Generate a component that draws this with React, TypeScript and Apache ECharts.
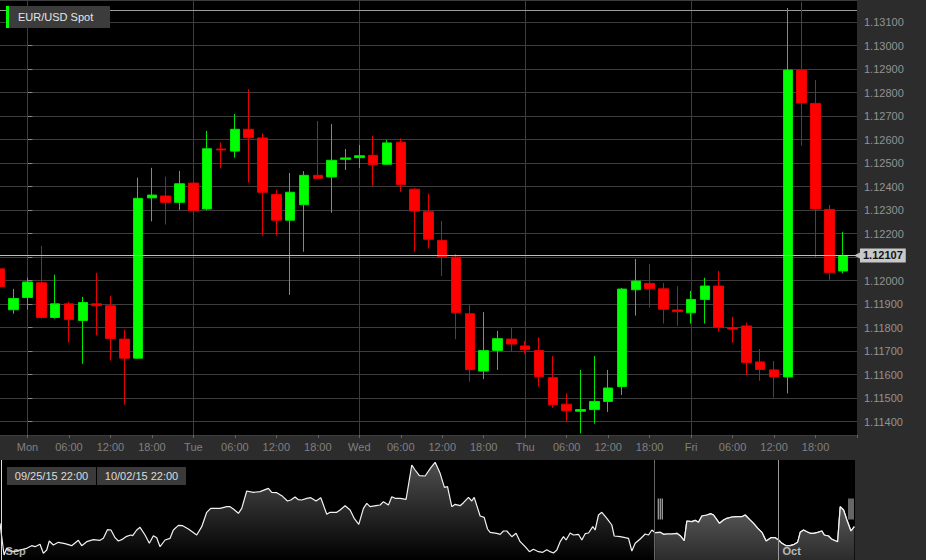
import React, { useEffect, useRef } from 'react';
import * as echarts from 'echarts';

// ---------- main chart data (2-hour candles, hours from Monday 00:00) ----------
const candleHours = Array.from({ length: 62 }, (_, i) => -4 + 2 * i);
const opens = [
  1.1205, 1.11876, 1.11928, 1.11991, 1.11843, 1.11901, 1.1183, 1.11901, 1.11893, 1.11751,
  1.1167, 1.12352, 1.1236, 1.12333, 1.12415, 1.12305, 1.1256, 1.12551, 1.12644, 1.12607,
  1.12366, 1.12257, 1.12323, 1.12448, 1.12441, 1.12516, 1.12523, 1.12533, 1.12495, 1.12589,
  1.12389, 1.12293, 1.12171, 1.121, 1.11859, 1.11615, 1.11703, 1.11751, 1.11722, 1.11703,
  1.11587, 1.11474, 1.11444, 1.11451, 1.11486, 1.11549, 1.11961, 1.11988, 1.11965, 1.11875,
  1.11863, 1.1192, 1.11977, 1.118, 1.11807, 1.11654, 1.1162, 1.1159, 1.12896, 1.12754,
  1.12303, 1.12041,
];
const closes = [
  1.11975, 1.11924, 1.11994, 1.11843, 1.11901, 1.11835, 1.11907, 1.11893, 1.11754, 1.1167,
  1.1235, 1.12364, 1.12333, 1.12412, 1.12297, 1.12561, 1.12556, 1.12644, 1.12608, 1.12376,
  1.12257, 1.12376, 1.12448, 1.12435, 1.12512, 1.12522, 1.12531, 1.12493, 1.12586, 1.12408,
  1.12296, 1.12176, 1.12102, 1.11863, 1.11621, 1.11702, 1.11753, 1.1173, 1.11706, 1.11591,
  1.11472, 1.11446, 1.11451, 1.11486, 1.11543, 1.11964, 1.11998, 1.11965, 1.11878, 1.11868,
  1.1192, 1.11977, 1.11801, 1.11794, 1.11652, 1.11622, 1.1159, 1.12896, 1.12756, 1.12305,
  1.12034, 1.12107,
];
const lows = [
  1.11918, 1.11859, 1.11876, 1.11838, 1.11838, 1.11737, 1.11646, 1.11767, 1.1166, 1.11472,
  1.11667, 1.12252, 1.12239, 1.12301, 1.1228, 1.123, 1.1248, 1.12523, 1.12417, 1.12191,
  1.12191, 1.11939, 1.12123, 1.12431, 1.12289, 1.12471, 1.12479, 1.12403, 1.12492, 1.12378,
  1.12123, 1.12137, 1.1202, 1.11751, 1.1157, 1.11581, 1.1162, 1.11697, 1.11689, 1.11549,
  1.11459, 1.11401, 1.1135, 1.11391, 1.11441, 1.11513, 1.11851, 1.11885, 1.11817, 1.11808,
  1.11817, 1.11817, 1.11783, 1.11736, 1.11598, 1.11574, 1.11502, 1.1152, 1.12574, 1.12099,
  1.12003, 1.12031,
];
const highs = [
  1.12089, 1.11965, 1.12012, 1.12148, 1.12025, 1.1191, 1.11931, 1.12033, 1.11935, 1.11791,
  1.12438, 1.1248, 1.12442, 1.12467, 1.12422, 1.12637, 1.12588, 1.12709, 1.12814, 1.12627,
  1.12386, 1.12458, 1.12466, 1.12679, 1.12666, 1.1256, 1.12577, 1.12615, 1.12598, 1.12605,
  1.12393, 1.12369, 1.12254, 1.12113, 1.119, 1.11866, 1.11786, 1.11798, 1.11743, 1.11759,
  1.11679, 1.1152, 1.1162, 1.11679, 1.1162, 1.11969, 1.12092, 1.12071, 1.1199, 1.11977,
  1.11956, 1.12012, 1.12041, 1.11846, 1.11821, 1.11709, 1.11658, 1.1316, 1.13185, 1.12854,
  1.12322, 1.12207,
];
const dayStarts = [0, 24, 48, 72, 96];
const dayNames = ['Mon', 'Tue', 'Wed', 'Thu', 'Fri', 'Sat'];
const lastPrice = 1.12107;
const sessionHighLine = 1.1315;
const seriesName = 'EUR/USD Spot';

// ---------- navigator data (hours from start of the navigator window) ----------
const navHours = [
  0, 3.4, 5.6, 11.2, 16.8, 22.4, 26.6, 29.4, 33.6, 36.4, 39.2, 41.4, 44.8, 49, 54.6, 60.2, 65.8, 68.6,
  72.8, 78.4, 84, 86.8, 90.2, 93.2, 96.6, 99.4, 102.2, 105.8, 109.8, 111.4, 114.8, 117.6, 121.8, 125.4,
  128.8, 131.6, 134.4, 138.6, 142.8, 145.6, 149.8, 153.4, 158.2, 165.2, 169.4, 173.6, 177, 184.8, 190.4,
  193.2, 196, 200.2, 203, 207.2, 212.8, 218.4, 225.4, 228.2, 232.4, 236.6, 241.4, 244.2, 247.8, 250.6,
  253.4, 257.6, 261, 265.4, 269.4, 274.4, 277.2, 282.8, 285.6, 289.8, 294, 297.4, 301.3, 305.2, 308,
  310.8, 315.8, 319.2, 322, 326.2, 329, 331.8, 336, 341, 345.8, 348.6, 352.2, 357, 361.8, 365.4, 369.6,
  373.2, 375.8, 379.4, 382.2, 386.4, 389.2, 393.4, 396.2, 398.2, 403.2, 406.6, 409.4, 411.6, 417.2, 420,
  422.8, 425.6, 429.8, 433.4, 436.8, 441, 444.6, 448, 452.2, 455.8, 459.2, 462, 464.8, 467.6, 470.4,
  473.2, 475.4, 478.8, 481.6, 485.8, 488.6, 491.4, 494.2, 497.8, 499.8, 502.6, 505.4, 509.6, 513.8,
  515.8, 520.8, 525, 527.8, 530.6, 533.4, 537.6, 541.8, 544.6, 547.4, 550.2, 554.4, 557.2, 560, 564.2,
  568.4, 571.2, 574.6, 576.8, 581, 583.8, 586.6, 589.4, 593.6, 597, 599.2, 604.2, 607.6, 610.4, 614.6,
  618.8, 623, 625.8, 629.4, 632.8, 636.4, 639.8, 643.4, 647.4, 651, 653.8, 656.6, 660.2, 663.6, 667,
  669.8, 672, 674.8, 677.6, 680.4, 683.2, 686.6, 690.2, 692.2, 695.8, 698.6, 703.4, 705.6, 708.4, 711.2,
  714.6, 717.4,
];
const navValues = [
  1.12142, 1.1135, 1.11517, 1.11433, 1.11475, 1.11517, 1.11583, 1.11558, 1.11617, 1.11392, 1.11475,
  1.117, 1.116, 1.11667, 1.11633, 1.11583, 1.11717, 1.11583, 1.11683, 1.11733, 1.11717, 1.11767,
  1.11983, 1.11975, 1.11783, 1.117, 1.11733, 1.11808, 1.1185, 1.11833, 1.11975, 1.12042, 1.1185,
  1.11642, 1.11833, 1.11783, 1.11558, 1.11725, 1.11767, 1.11975, 1.12092, 1.12083, 1.12, 1.1185,
  1.12058, 1.12417, 1.12517, 1.12517, 1.12558, 1.12558, 1.125, 1.12392, 1.12517, 1.1295, 1.12917,
  1.12933, 1.13017, 1.12917, 1.12908, 1.12833, 1.127, 1.12725, 1.128, 1.12733, 1.12725, 1.12767,
  1.12783, 1.127, 1.12783, 1.12367, 1.12417, 1.12417, 1.12475, 1.12583, 1.12475, 1.12267, 1.12117,
  1.12517, 1.12642, 1.12558, 1.12583, 1.126, 1.12683, 1.126, 1.12808, 1.12767, 1.12767, 1.12742,
  1.136, 1.13475, 1.13333, 1.13325, 1.13533, 1.13667, 1.13392, 1.13042, 1.13058, 1.12558, 1.12617,
  1.12583, 1.12658, 1.12792, 1.127, 1.12792, 1.12325, 1.12292, 1.12, 1.11917, 1.11892, 1.11867,
  1.1195, 1.1195, 1.11808, 1.11892, 1.11683, 1.11558, 1.11433, 1.11492, 1.11433, 1.11417, 1.11483,
  1.11433, 1.114, 1.11475, 1.11683, 1.11808, 1.11725, 1.119, 1.1185, 1.11867, 1.11725, 1.11883,
  1.119, 1.12058, 1.11975, 1.1235, 1.12417, 1.12267, 1.121, 1.11825, 1.11808, 1.11783, 1.11767,
  1.1145, 1.11642, 1.1175, 1.11875, 1.1185, 1.11975, 1.11908, 1.11917, 1.11867, 1.11875, 1.11875,
  1.11892, 1.11833, 1.11708, 1.122, 1.12183, 1.12217, 1.12167, 1.12325, 1.1235, 1.12383, 1.1235,
  1.12142, 1.12225, 1.12267, 1.123, 1.12308, 1.12308, 1.1235, 1.12242, 1.12142, 1.12017, 1.11917,
  1.117, 1.11783, 1.11783, 1.11725, 1.11642, 1.11583, 1.11583, 1.11617, 1.11667, 1.11917, 1.11975,
  1.11933, 1.11892, 1.11892, 1.11917, 1.1195, 1.1185, 1.11825, 1.11742, 1.11683, 1.12558, 1.12475,
  1.12225, 1.1195, 1.12058,
];
const selStart = 549.4;
const selEnd = 718;
const monthMarks = [
  { name: 'Sep', hour: 1.3 },
  { name: 'Oct', hour: 653.8 },
];
const rangeLabels = ['09/25/15 22:00', '10/02/15 22:00'];

const FONT = 'Arial, "Liberation Sans", sans-serif';

function buildOption() {
  const candleData = candleHours.map((h, i) => [h, opens[i], closes[i], lows[i], highs[i]]);
  const closeLine = candleHours.map((h, i) => [h, closes[i]]);
  const navData = navHours.map((h, i) => [h, navValues[i]]);
  const navSel = navData.filter((d) => d[0] >= selStart && d[0] <= selEnd);
  const handleY = 1.125;

  return {
    animation: false,
    backgroundColor: '#2c2c2c',
    textStyle: { fontFamily: FONT },
    grid: [
      {
        left: -14, right: 69, top: 0, height: 435,
        show: true, backgroundColor: '#000', borderWidth: 0,
        containLabel: false, outerBoundsMode: 'none',
      },
      {
        left: 0, right: 71, top: 460, height: 100,
        show: true, backgroundColor: '#000', borderWidth: 0,
        containLabel: false, outerBoundsMode: 'none',
      },
    ],
    xAxis: [
      {
        type: 'value',
        gridIndex: 0,
        min: -6,
        max: 120,
        interval: 6,
        axisLine: { show: false },
        axisTick: { show: true, length: 3, lineStyle: { color: '#666' } },
        splitLine: { show: false },
        axisLabel: {
          color: '#808080',
          fontSize: 11,
          fontFamily: FONT,
          margin: 6,
          formatter: (v: number) => {
            const h = Math.round(v);
            if (h < 0 || h >= 120) return '';
            const hh = h % 24;
            return hh === 0 ? dayNames[h / 24] : String(hh).padStart(2, '0') + ':00';
          },
        },
      },
      { type: 'value', gridIndex: 1, min: 0, max: 718, show: false },
    ],
    yAxis: [
      {
        type: 'value',
        gridIndex: 0,
        position: 'right',
        min: 1.11343,
        max: 1.13194,
        splitNumber: 18,
        minInterval: 0.001,
        maxInterval: 0.001,
        axisLine: { show: false },
        axisTick: { show: true, length: 5, lineStyle: { color: '#888' } },
        axisLabel: {
          color: '#939393',
          fontSize: 11,
          fontFamily: FONT,
          margin: 7,
          showMinLabel: false,
          showMaxLabel: false,
          formatter: (v: number) => v.toFixed(5),
        },
        splitLine: { show: true, lineStyle: { color: '#3d3d3d', width: 1 } },
      },
      { type: 'value', gridIndex: 1, min: 1.11225, max: 1.13725, show: false },
    ],
    series: [
      {
        name: seriesName,
        type: 'candlestick',
        xAxisIndex: 0,
        yAxisIndex: 0,
        data: candleData,
        encode: { x: 0, y: [1, 2, 3, 4] },
        barWidth: 10,
        z: 3,
        itemStyle: {
          color: '#00ff00',
          color0: '#ff0000',
          borderColor: '#00e600',
          borderColor0: '#e60000',
          borderWidth: 1,
        },
        markLine: {
          silent: true,
          precision: 5,
          symbol: ['none', 'path://M0,0L10,0L5,10Z'],
          symbolSize: 6,
          data: [
            {
              yAxis: lastPrice,
              lineStyle: { color: '#c0c0c0', type: 'solid', width: 1 },
              label: {
                show: true,
                position: 'end',
                distance: 3,
                formatter: lastPrice.toFixed(5),
                backgroundColor: '#c8c8c8',
                color: '#111',
                fontWeight: 'bold',
                fontSize: 11,
                fontFamily: FONT,
                padding: [2, 3, 1, 3],
              },
            },
          ],
        },
      },
      {
        type: 'line',
        xAxisIndex: 0,
        yAxisIndex: 0,
        data: closeLine,
        symbol: 'none',
        silent: true,
        z: 1,
        lineStyle: { opacity: 0 },
        markLine: {
          silent: true,
          z: 1,
          precision: 5,
          symbol: ['none', 'none'],
          label: { show: false },
          data: [
            ...dayStarts.map((d) => ({ xAxis: d, lineStyle: { color: '#3d3d3d', type: 'solid', width: 1 } })),
            { yAxis: sessionHighLine, lineStyle: { color: '#9a9a9a', type: 'solid', width: 1 } },
          ],
        },
      },
      {
        type: 'line',
        xAxisIndex: 1,
        yAxisIndex: 1,
        data: navData,
        symbol: 'none',
        silent: true,
        z: 2,
        lineStyle: { color: '#f2f2f2', width: 1.2 },
        areaStyle: {
          color: new echarts.graphic.LinearGradient(0, 0, 0, 1, [
            { offset: 0, color: '#707070' },
            { offset: 1, color: '#000000' },
          ]),
        },
        markLine: {
          silent: true,
          precision: 2,
          symbol: ['none', 'none'],
          label: { show: false },
          data: [
            { xAxis: monthMarks[0].hour, lineStyle: { color: '#dddddd', type: 'solid', width: 1 } },
            { xAxis: monthMarks[1].hour, lineStyle: { color: '#999999', type: 'solid', width: 1 } },
            { xAxis: selStart, lineStyle: { color: '#666666', type: 'solid', width: 1 } },
          ],
        },
      },
      {
        type: 'line',
        xAxisIndex: 1,
        yAxisIndex: 1,
        data: navSel,
        symbol: 'none',
        silent: true,
        z: 3,
        lineStyle: { color: '#f2f2f2', width: 1.2 },
        areaStyle: {
          color: new echarts.graphic.LinearGradient(0, 0, 0, 1, [
            { offset: 0, color: '#6c6c6c' },
            { offset: 1, color: '#3e3e3e' },
          ]),
        },
      },
      {
        type: 'scatter',
        xAxisIndex: 1,
        yAxisIndex: 1,
        symbolSize: 0,
        silent: true,
        z: 5,
        data: monthMarks.map((m) => ({ name: m.name, value: [m.hour, 1.1145] })),
        label: {
          show: true,
          position: 'right',
          distance: 4,
          formatter: '{b}',
          color: '#dddddd',
          fontWeight: 'bold',
          fontSize: 11,
          fontFamily: FONT,
        },
      },
      {
        type: 'scatter',
        xAxisIndex: 1,
        yAxisIndex: 1,
        silent: true,
        z: 6,
        symbol: 'path://M0,0H1V20H0Z M2,0H3V20H2Z M4,0H5V20H4Z',
        symbolSize: [5, 21],
        itemStyle: { color: '#ffffff' },
        data: [
          { value: [selStart, handleY], symbolOffset: [6, 0] },
          { value: [selEnd, handleY], symbolOffset: [-4, 0] },
        ],
      },
    ],
    graphic: [
      { type: 'rect', z: 100, zlevel: 0, shape: { x: 6, y: 6, width: 104, height: 22 }, style: { fill: '#3c3c3c' } },
      { type: 'rect', z: 101, zlevel: 0, shape: { x: 6, y: 6, width: 3, height: 22 }, style: { fill: '#00ff00' } },
      {
        type: 'text',
        z: 102,
        zlevel: 0,
        x: 18,
        y: 17,
        style: {
          text: seriesName,
          fill: '#e6e6e6',
          font: '11px ' + FONT,
          verticalAlign: 'middle',
        },
      },
      ...rangeLabels.flatMap((t, i) => [
        {
          type: 'rect',
          z: 100,
          shape: { x: 7 + i * 90, y: 467, width: 89, height: 18 },
          style: { fill: '#3a3a3a' },
        },
        {
          type: 'text',
          z: 101,
          x: 51.5 + i * 90,
          y: 476,
          style: {
            text: t,
            fill: '#dcdcdc',
            font: '11px ' + FONT,
            align: 'center',
            verticalAlign: 'middle',
          },
        },
      ]),
    ],
  };
}

export default function App() {
  const ref = useRef<HTMLDivElement>(null);
  useEffect(() => {
    const chart = echarts.init(ref.current as HTMLDivElement, null, { renderer: 'svg' });
    chart.setOption(buildOption() as any);
    return () => chart.dispose();
  }, []);
  return (
    <div
      ref={ref}
      style={{ position: 'absolute', left: 0, top: 0, width: 926, height: 560 }}
    />
  );
}
